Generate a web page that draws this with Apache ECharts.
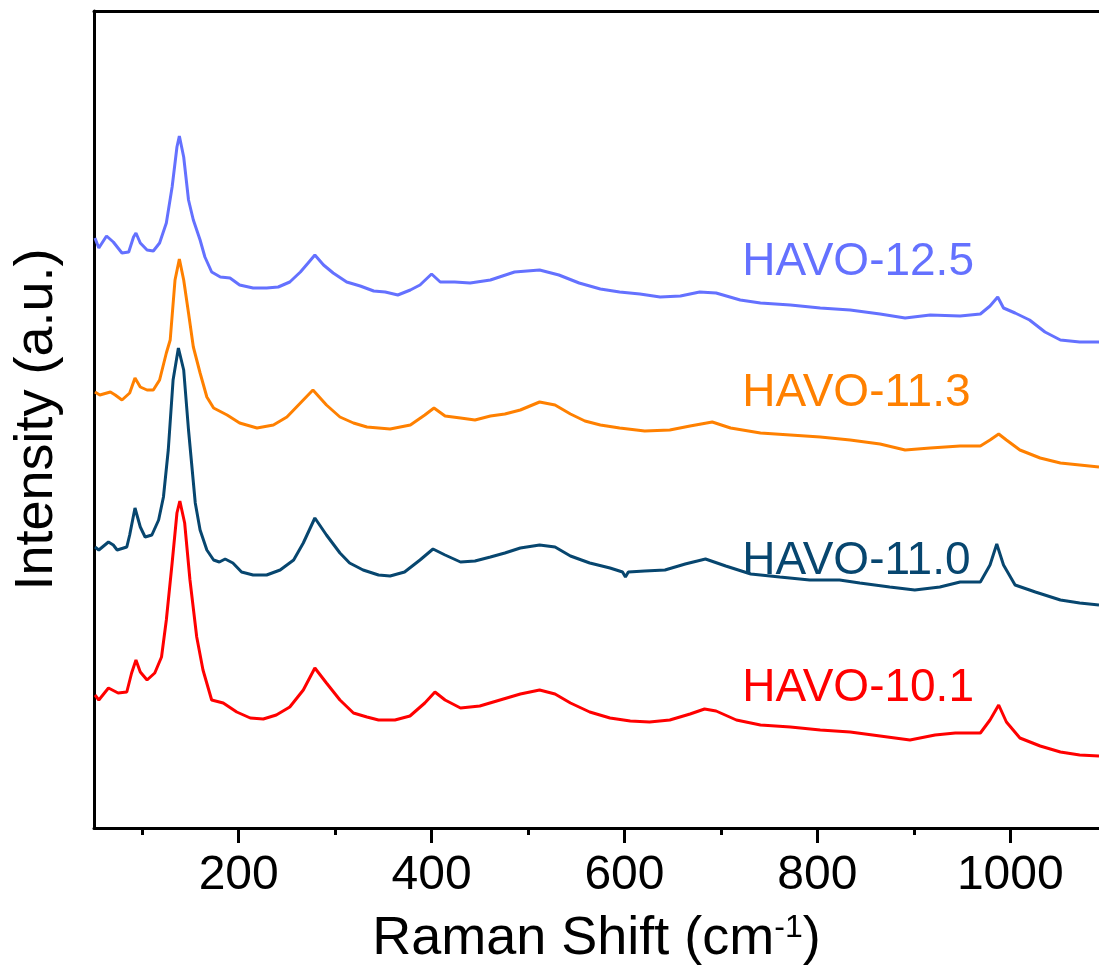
<!DOCTYPE html>
<html>
<head>
<meta charset="utf-8">
<script src="https://cdn.jsdelivr.net/npm/echarts@6/dist/echarts.min.js"></script>
<style>
  html, body { margin: 0; padding: 0; background: #fff; }
  #chart { width: 1099px; height: 971px; }
</style>
</head>
<body>
<div id="chart"></div>
<script>
var chart = echarts.init(document.getElementById('chart'));

// Raman spectra: [shift (cm-1), intensity (a.u., stacked)]
var havo125 = [
  [51, 590], [55, 580], [63, 592], [70, 586], [79, 575], [86, 576], [91, 591], [93.5, 595],
  [98, 585], [105, 578], [111.5, 577], [118, 585], [125, 605], [131, 641], [136, 681], [138.5, 692],
  [143, 671], [148, 628], [153, 608], [160, 588], [165, 571], [172, 556], [181, 551], [191, 550],
  [201, 543], [215, 540], [229, 540], [241, 541], [253, 546], [264, 556], [272, 565], [279, 573],
  [288, 563], [298, 555], [312, 546], [326, 542], [340, 537], [352, 536], [365, 533], [378, 538],
  [388, 543], [400, 554], [409, 546], [424, 546], [440, 545], [461, 548], [486, 556], [512, 558],
  [532, 553], [553, 545], [575, 539], [595, 536], [616, 534], [637, 531], [658, 532], [678, 536],
  [695, 535], [720, 528], [741, 525], [772, 523], [803, 520], [834, 518], [865, 514], [891, 510],
  [917, 513], [948, 512], [969, 514], [979, 522], [987, 531], [993, 520], [1005, 515], [1020, 508],
  [1036, 496], [1052, 488], [1072, 486], [1092, 486]
];
var havo113 = [
  [51, 436], [56, 433], [67, 436], [72, 433], [79, 428], [87, 435], [92.5, 450], [98, 441],
  [105, 438], [111.5, 438], [118, 448], [125, 475], [129, 488], [134, 548], [138.5, 569], [143, 548],
  [148, 515], [153, 481], [160, 455], [167, 431], [174, 420], [188, 413], [201, 405], [219, 400],
  [236, 403], [250, 411], [264, 425], [277, 438], [291, 423], [305, 411], [319, 405], [333, 401],
  [345, 400], [357, 399], [378, 403], [393, 413], [402.5, 420], [414, 412], [430, 410], [445, 408],
  [461, 412], [476, 414], [492, 418], [512, 426], [528, 423], [544, 414], [559, 407], [575, 403],
  [595, 400], [621, 397], [647, 398], [668, 402], [691, 406], [710, 400], [741, 395], [772, 393],
  [803, 391], [834, 388], [865, 384], [891, 378], [917, 380], [948, 382], [969, 382], [979, 388],
  [988, 394], [996, 388], [1010, 378], [1031, 370], [1052, 365], [1072, 363], [1092, 361]
];
var havo110 = [
  [51, 281], [55, 278], [65, 286], [70, 283], [74, 278], [84, 281], [87, 293], [92.5, 320],
  [98, 301], [103, 291], [110, 293], [117, 308], [122, 331], [127, 378], [132, 448], [137.5, 480],
  [143, 458], [148, 398], [155, 325], [160, 298], [167, 278], [174, 268], [180, 266], [186, 269],
  [194, 265], [203, 256], [215, 253], [229, 253], [243, 258], [257, 268], [267, 285], [279, 310],
  [291, 293], [305, 275], [315, 265], [329, 258], [345, 253], [357, 252], [372, 256], [388, 268],
  [401.5, 279], [414, 273], [430, 266], [445, 267], [461, 271], [476, 275], [492, 280], [512, 283],
  [528, 281], [544, 272], [564, 265], [585, 260], [598, 256], [601, 251], [604, 256], [621, 257],
  [642, 258], [663, 264], [684, 269], [705, 262], [731, 254], [761, 251], [792, 248], [823, 248],
  [844, 245], [875, 241], [901, 238], [927, 241], [948, 246], [969, 246], [979, 263], [986, 284],
  [993, 263], [1005, 243], [1026, 236], [1052, 228], [1072, 225], [1092, 223]
];
var havo101 = [
  [51, 133], [55, 128], [65, 140], [75, 135], [84, 136], [89, 155], [93.5, 168], [98, 156],
  [105, 148], [113, 155], [120, 171], [125, 208], [131, 265], [136, 315], [139, 327], [144, 305],
  [149.5, 248], [156.5, 191], [163, 158], [172, 128], [184, 125], [198, 116], [212, 110], [225.5, 109],
  [239, 113], [253, 121], [267, 138], [279, 160], [291, 145], [305, 128], [319, 115], [333, 111],
  [345, 108], [362, 108], [377.6, 112], [393, 125], [403.5, 136], [414, 128], [430, 120], [450, 122],
  [471, 128], [492, 134], [512, 138], [528, 134], [544, 125], [564, 116], [585, 110], [606, 107],
  [626, 106], [647, 108], [668, 114], [683, 119], [695, 117], [716, 108], [741, 103], [772, 101],
  [803, 98], [834, 96], [865, 92], [896, 88], [922, 93], [943, 95], [969, 95], [979, 108],
  [988, 123], [996, 106], [1010, 90], [1031, 82], [1052, 76], [1072, 73], [1092, 72]
];

var sampleNames = ['HAVO-12.5', 'HAVO-11.3', 'HAVO-11.0', 'HAVO-10.1'];
var sampleData = [havo125, havo113, havo110, havo101];
var majorTicks = [200, 400, 600, 800, 1000];
var minorTicks = [100, 300, 500, 700, 900];

var colors = ['#6471FF', '#FF8000', '#07466F', '#FF0000'];
var labelLevels = [566, 435, 267, 140];
var FONT = 'Liberation Sans, Arial, Helvetica, sans-serif';

var series = [];
for (var i = 0; i < sampleData.length; i++) {
    series.push({
        name: sampleNames[i],
        type: 'line',
        data: sampleData[i],
        showSymbol: false,
        symbol: 'none',
        lineStyle: { color: colors[i], width: 3 },
        itemStyle: { color: colors[i] },
        markPoint: {
            symbol: 'circle',
            symbolSize: 0.1,
            silent: true,
            label: {
                show: true,
                position: 'right',
                distance: 0,
                color: colors[i],
                fontSize: 46,
                fontFamily: FONT,
                formatter: function (p) { return p.seriesName; }
            },
            data: [{ coord: [722, labelLevels[i]] }]
        }
    });
}

// bare bottom axis that only draws a set of ticks
function tickAxis(values, len) {
    return {
        type: 'value', position: 'bottom', min: 50, max: 1092,
        axisLine: { show: false },
        axisTick: { show: true, customValues: values, length: len, lineStyle: { color: '#000', width: 3 } },
        axisLabel: { show: false },
        splitLine: { show: false }
    };
}

var option = {
    animation: false,
    backgroundColor: '#fff',
    grid: { left: 94, right: 0, top: 11, bottom: 143 },
    xAxis: [
        {
            type: 'value', position: 'bottom', min: 50, max: 1092,
            name: 'Raman Shift (cm{sup|-1})',
            nameLocation: 'middle',
            nameGap: 84,
            nameTextStyle: {
                fontSize: 54, fontFamily: FONT, color: '#000',
                rich: { sup: { fontSize: 32, fontFamily: FONT, color: '#000', verticalAlign: 'top', lineHeight: 40 } }
            },
            axisLine: { show: true, onZero: false, lineStyle: { color: '#000', width: 3 } },
            axisTick: { show: false },
            axisLabel: {
                customValues: majorTicks, margin: 24, fontSize: 48, fontFamily: FONT, color: '#000',
                formatter: function (v) { return String(v); }
            },
            splitLine: { show: false }
        },
        tickAxis(minorTicks, 7),
        tickAxis(majorTicks, 15),
        {
            type: 'value', position: 'top', min: 50, max: 1092,
            axisLine: { show: true, onZero: false, lineStyle: { color: '#000', width: 3 } },
            axisTick: { show: false },
            axisLabel: { show: false },
            splitLine: { show: false }
        }
    ],
    yAxis: {
        type: 'value', min: 0, max: 817,
        name: 'Intensity (a.u.)',
        nameLocation: 'middle',
        nameGap: 30,
        nameTextStyle: { fontSize: 54, fontFamily: FONT, color: '#000' },
        axisLine: { show: true, onZero: false, lineStyle: { color: '#000', width: 3 } },
        axisTick: { show: false },
        axisLabel: { show: false },
        splitLine: { show: false }
    },
    series: series
};

chart.setOption(option);
</script>
</body>
</html>
